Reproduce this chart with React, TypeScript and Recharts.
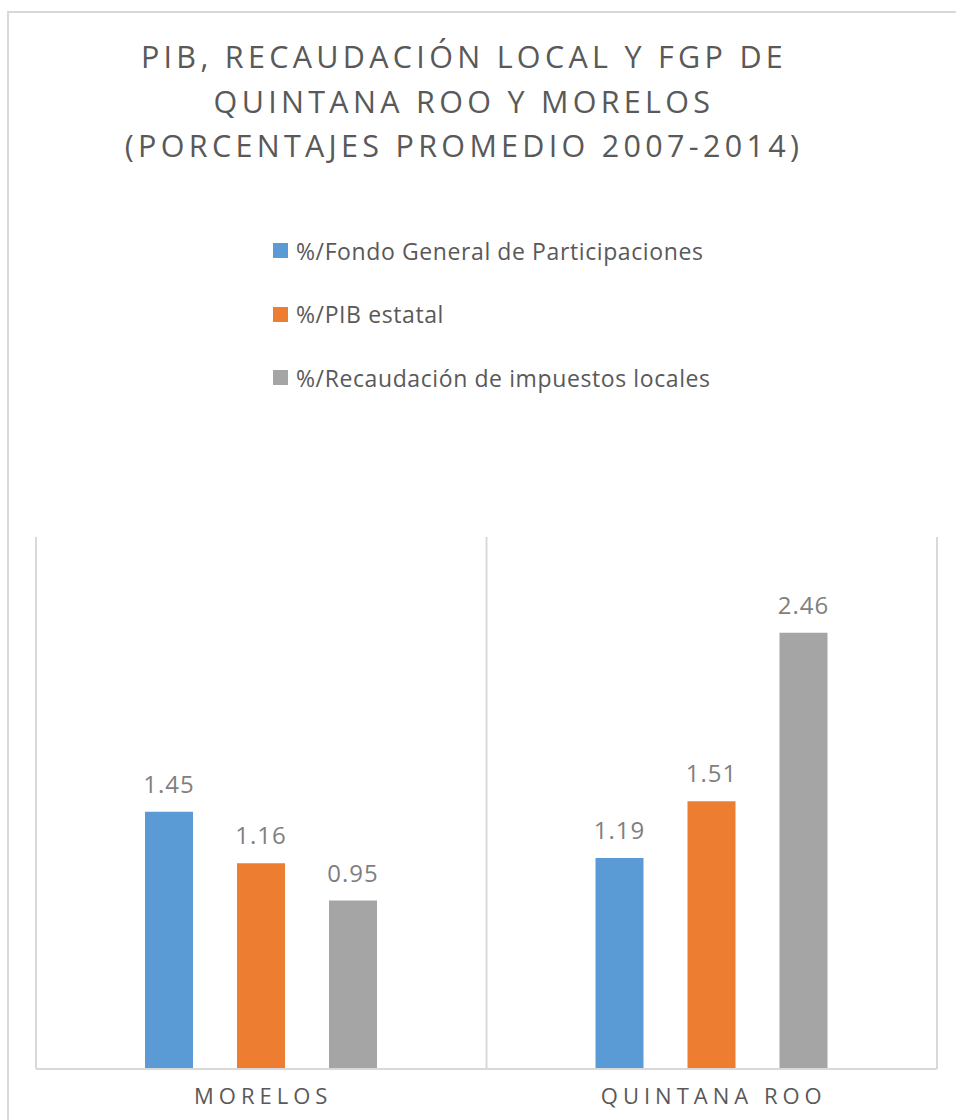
import { Bar, BarChart, CartesianGrid, LabelList, XAxis, YAxis } from "recharts";

const states = ["MORELOS", "QUINTANA ROO"];
const fondoGeneral = [1.45, 1.19];
const pibEstatal = [1.16, 1.51];
const recaudacion = [0.95, 2.46];

const seriesNames = [
  "%/Fondo General de Participaciones",
  "%/PIB estatal",
  "%/Recaudación de impuestos locales",
];
const seriesColors = ["#5b9bd5", "#ed7d31", "#a5a5a5"];
const titleLines = [
  "PIB, RECAUDACIÓN LOCAL Y FGP DE",
  "QUINTANA ROO Y MORELOS",
  "(PORCENTAJES PROMEDIO 2007-2014)",
];

const data = states.map((name, i) => ({
  name,
  fgp: fondoGeneral[i],
  pib: pibEstatal[i],
  rec: recaudacion[i],
}));

const font = "'Open Sans', sans-serif";
const textColor = "#595959";

// vertical gridlines sit on the category boundaries, like Excel
const boundaryLines = (props: any) => {
  const { offset } = props;
  const step = offset.width / states.length;
  const lines = [offset.left];
  states.forEach((_, i) => lines.push(offset.left + (i + 1) * step));
  return lines;
};

function LegendList() {
  return (
    <div style={{ position: "absolute", left: 273, top: 219, fontFamily: font }}>
      {seriesNames.map((name, i) => (
        <div
          key={name}
          style={{
            display: "flex",
            alignItems: "center",
            height: 63.5,
            fontSize: 23,
            letterSpacing: 0.6,
            color: textColor,
            whiteSpace: "nowrap",
          }}
        >
          <span
            style={{ width: 15, height: 15, background: seriesColors[i], marginRight: 8, display: "inline-block" }}
          />
          {name}
        </div>
      ))}
    </div>
  );
}

const CategoryTick = (props: any) => {
  const { x, y, payload } = props;
  return (
    <text
      x={x + 2}
      y={y}
      dy={27}
      textAnchor="middle"
      fill={textColor}
      fontSize={22}
      fontFamily={font}
      letterSpacing={5}
    >
      {payload.value}
    </text>
  );
};

const fmt = (v: any) => Number(v).toFixed(2);

export default function App() {
  const labelStyle = { fill: "#7f7f7f", fontSize: 24, fontFamily: font, letterSpacing: 1 };
  return (
    <div style={{ position: "absolute", left: 0, top: 0, width: 956, height: 1120, background: "#fff", overflow: "hidden" }}>
      <div
        style={{
          position: "absolute",
          left: 7,
          top: 11,
          width: 1000,
          height: 1200,
          border: "2px solid #d9d9d9",
        }}
      />
      <div
        style={{
          position: "absolute",
          left: 0,
          top: 34,
          width: 928,
          textAlign: "center",
          fontFamily: font,
          fontSize: 30.5,
          lineHeight: "44.5px",
          letterSpacing: 4.3,
          color: textColor,
          whiteSpace: "nowrap",
        }}
      >
        {titleLines.map((t) => (
          <div key={t}>{t}</div>
        ))}
      </div>
      <LegendList />
      <BarChart
        width={956}
        height={1120}
        data={data}
        margin={{ top: 537, right: 19, left: 36, bottom: 0 }}
        barSize={48}
        barGap={44}
        style={{ position: "absolute", left: 0, top: 0 }}
      >
        <CartesianGrid
          horizontal={false}
          stroke="#d9d9d9"
          strokeWidth={2}
          verticalCoordinatesGenerator={boundaryLines}
        />
        <XAxis
          dataKey="name"
          axisLine={{ stroke: "#d9d9d9", strokeWidth: 2 }}
          tickLine={false}
          tick={<CategoryTick />}
          height={51}
          interval={0}
        />
        <YAxis domain={[0, 3]} hide width={0} />
        <Bar dataKey="fgp" name={seriesNames[0]} fill={seriesColors[0]} isAnimationActive={false}>
          <LabelList dataKey="fgp" position="top" offset={19} formatter={fmt} style={labelStyle} />
        </Bar>
        <Bar dataKey="pib" name={seriesNames[1]} fill={seriesColors[1]} isAnimationActive={false}>
          <LabelList dataKey="pib" position="top" offset={19} formatter={fmt} style={labelStyle} />
        </Bar>
        <Bar dataKey="rec" name={seriesNames[2]} fill={seriesColors[2]} isAnimationActive={false}>
          <LabelList dataKey="rec" position="top" offset={19} formatter={fmt} style={labelStyle} />
        </Bar>
      </BarChart>
    </div>
  );
}
